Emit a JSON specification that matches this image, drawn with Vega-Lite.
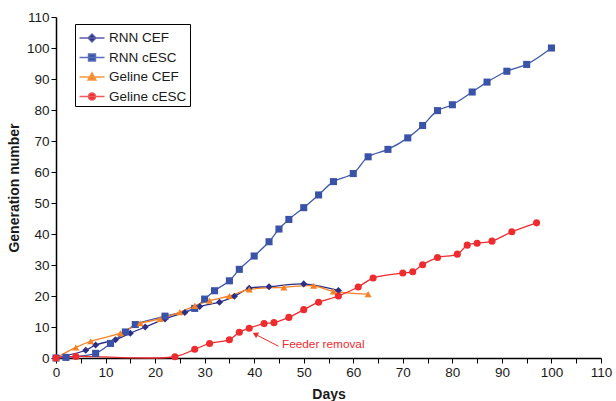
{
  "$schema": "https://vega.github.io/schema/vega-lite/v6.json",
  "width": 545,
  "height": 341,
  "autosize": {"type": "none"},
  "padding": {"left": 56, "top": 17, "right": 15, "bottom": 43},
  "background": "white",
  "config": {
    "font": "Liberation Sans",
    "view": {"stroke": null},
    "axis": {
      "grid": false,
      "domainColor": "#000000",
      "domainWidth": 1.5,
      "tickColor": "#000000",
      "tickWidth": 1,
      "tickSize": 5,
      "labelOverlap": false,
      "labelFlush": false,
      "labelFont": "Liberation Sans",
      "labelFontSize": 13.5,
      "labelColor": "#1a1a1a",
      "labelPadding": 2,
      "titleFont": "Liberation Sans",
      "titleFontSize": 14,
      "titleFontWeight": "bold",
      "titleColor": "#1a1a1a"
    }
  },
  "datasets": {
    "main": [
      {"series": "RNN CEF", "day": 0, "gen": 0},
      {"series": "RNN CEF", "day": 6, "gen": 2.5},
      {"series": "RNN CEF", "day": 8, "gen": 4.2},
      {"series": "RNN CEF", "day": 12, "gen": 5.9},
      {"series": "RNN CEF", "day": 15, "gen": 8},
      {"series": "RNN CEF", "day": 18, "gen": 10},
      {"series": "RNN CEF", "day": 22, "gen": 12.6},
      {"series": "RNN CEF", "day": 26, "gen": 14.7},
      {"series": "RNN CEF", "day": 29, "gen": 16.6},
      {"series": "RNN CEF", "day": 33, "gen": 18},
      {"series": "RNN CEF", "day": 36, "gen": 19.9},
      {"series": "RNN CEF", "day": 39, "gen": 22.5},
      {"series": "RNN CEF", "day": 43, "gen": 23},
      {"series": "RNN CEF", "day": 50, "gen": 23.9},
      {"series": "RNN CEF", "day": 57, "gen": 21.8},
      {"series": "RNN cESC", "day": 0, "gen": 0},
      {"series": "RNN cESC", "day": 2, "gen": 0.2},
      {"series": "RNN cESC", "day": 8, "gen": 1.5},
      {"series": "RNN cESC", "day": 11, "gen": 4.7},
      {"series": "RNN cESC", "day": 14, "gen": 8.4},
      {"series": "RNN cESC", "day": 16, "gen": 10.8},
      {"series": "RNN cESC", "day": 22, "gen": 13.5},
      {"series": "RNN cESC", "day": 28, "gen": 16},
      {"series": "RNN cESC", "day": 30, "gen": 19},
      {"series": "RNN cESC", "day": 32, "gen": 21.7},
      {"series": "RNN cESC", "day": 35, "gen": 24.9},
      {"series": "RNN cESC", "day": 37, "gen": 28.6},
      {"series": "RNN cESC", "day": 40, "gen": 32.9},
      {"series": "RNN cESC", "day": 43, "gen": 37.5},
      {"series": "RNN cESC", "day": 45, "gen": 41.6},
      {"series": "RNN cESC", "day": 47, "gen": 44.7},
      {"series": "RNN cESC", "day": 50, "gen": 48.5},
      {"series": "RNN cESC", "day": 53, "gen": 52.6},
      {"series": "RNN cESC", "day": 56, "gen": 56.9},
      {"series": "RNN cESC", "day": 60, "gen": 59.5},
      {"series": "RNN cESC", "day": 63, "gen": 64.9},
      {"series": "RNN cESC", "day": 67, "gen": 67.3},
      {"series": "RNN cESC", "day": 71, "gen": 71},
      {"series": "RNN cESC", "day": 74, "gen": 75},
      {"series": "RNN cESC", "day": 77, "gen": 79.8},
      {"series": "RNN cESC", "day": 80, "gen": 81.7},
      {"series": "RNN cESC", "day": 84, "gen": 85.8},
      {"series": "RNN cESC", "day": 87, "gen": 89},
      {"series": "RNN cESC", "day": 91, "gen": 92.5},
      {"series": "RNN cESC", "day": 95, "gen": 94.7},
      {"series": "RNN cESC", "day": 100, "gen": 100},
      {"series": "Geline CEF", "day": 0, "gen": 0},
      {"series": "Geline CEF", "day": 4, "gen": 3.4},
      {"series": "Geline CEF", "day": 7, "gen": 5.4},
      {"series": "Geline CEF", "day": 13, "gen": 8},
      {"series": "Geline CEF", "day": 17, "gen": 11.2},
      {"series": "Geline CEF", "day": 21, "gen": 12.6},
      {"series": "Geline CEF", "day": 25, "gen": 14.8},
      {"series": "Geline CEF", "day": 28, "gen": 16.8},
      {"series": "Geline CEF", "day": 31, "gen": 18.5},
      {"series": "Geline CEF", "day": 35, "gen": 20},
      {"series": "Geline CEF", "day": 39, "gen": 22.1},
      {"series": "Geline CEF", "day": 46, "gen": 22.8},
      {"series": "Geline CEF", "day": 52, "gen": 23.3},
      {"series": "Geline CEF", "day": 56, "gen": 21.5},
      {"series": "Geline CEF", "day": 63, "gen": 20.6},
      {"series": "Geline cESC", "day": 0, "gen": 0},
      {"series": "Geline cESC", "day": 4, "gen": 0.5},
      {"series": "Geline cESC", "day": 24, "gen": 0.4},
      {"series": "Geline cESC", "day": 28, "gen": 2.8},
      {"series": "Geline cESC", "day": 31, "gen": 4.7},
      {"series": "Geline cESC", "day": 35, "gen": 5.9},
      {"series": "Geline cESC", "day": 37, "gen": 8.3},
      {"series": "Geline cESC", "day": 39, "gen": 9.6},
      {"series": "Geline cESC", "day": 42, "gen": 11.1},
      {"series": "Geline cESC", "day": 44, "gen": 11.4},
      {"series": "Geline cESC", "day": 47, "gen": 13.1},
      {"series": "Geline cESC", "day": 50, "gen": 15.6},
      {"series": "Geline cESC", "day": 53, "gen": 18},
      {"series": "Geline cESC", "day": 57, "gen": 20},
      {"series": "Geline cESC", "day": 61, "gen": 22.9},
      {"series": "Geline cESC", "day": 64, "gen": 25.8},
      {"series": "Geline cESC", "day": 70, "gen": 27.4},
      {"series": "Geline cESC", "day": 72, "gen": 27.8},
      {"series": "Geline cESC", "day": 74, "gen": 30.1},
      {"series": "Geline cESC", "day": 77, "gen": 32.4},
      {"series": "Geline cESC", "day": 81, "gen": 33.5},
      {"series": "Geline cESC", "day": 83, "gen": 36.4},
      {"series": "Geline cESC", "day": 85, "gen": 37},
      {"series": "Geline cESC", "day": 88, "gen": 37.7},
      {"series": "Geline cESC", "day": 92, "gen": 40.7},
      {"series": "Geline cESC", "day": 97, "gen": 43.6}
    ],
    "arrow": [
      {"x1": 44.9, "y1": 3.8, "x2": 40.6, "y2": 7.35, "hx": 40.2, "hy": 7.7, "label": "Feeder removal", "tx": 45.6, "ty": 4.5}
    ]
  },
  "layer": [
    {
      "data": {"name": "main"},
      "mark": {"type": "line", "interpolate": "catmull-rom", "strokeWidth": 1.3},
      "encoding": {
        "x": {"field": "day", "type": "quantitative", "scale": {"domain": [0, 110], "nice": false},
          "axis": {"title": "Days", "values": [0,5,10,15,20,25,30,35,40,45,50,55,60,65,70,75,80,85,90,95,100,105,110],
            "labelExpr": "datum.value % 10 === 0 ? datum.label : ''", "titlePadding": 9}},
        "y": {"field": "gen", "type": "quantitative", "scale": {"domain": [0, 110], "nice": false},
          "axis": {"title": "Generation number", "values": [0,10,20,30,40,50,60,70,80,90,100,110], "titlePadding": 5}},
        "color": {"field": "series", "type": "nominal",
          "scale": {"domain": ["RNN CEF", "RNN cESC", "Geline CEF", "Geline cESC"], "range": ["#2b2f86", "#3f5aab", "#f58025", "#ee2b2f"]},
          "legend": null}
      }
    },
    {
      "data": {"name": "main"},
      "mark": {"type": "point", "filled": true, "size": 50, "opacity": 1},
      "encoding": {
        "x": {"field": "day", "type": "quantitative",
          "axis": {"title": "Days", "values": [0,5,10,15,20,25,30,35,40,45,50,55,60,65,70,75,80,85,90,95,100,105,110],
            "labelExpr": "datum.value % 10 === 0 ? datum.label : ''", "titlePadding": 9}},
        "y": {"field": "gen", "type": "quantitative",
          "axis": {"title": "Generation number", "values": [0,10,20,30,40,50,60,70,80,90,100,110], "titlePadding": 5}},
        "color": {"field": "series", "type": "nominal",
          "scale": {"domain": ["RNN CEF", "RNN cESC", "Geline CEF", "Geline cESC"], "range": ["#2b2f86", "#3a52a8", "#f58025", "#ee2b2f"]},
          "legend": null},
        "shape": {"field": "series", "type": "nominal",
          "scale": {"domain": ["RNN CEF", "RNN cESC", "Geline CEF", "Geline cESC"], "range": ["diamond", "square", "triangle-up", "circle"]},
          "legend": null}
      }
    },
    {
      "data": {"name": "main"},
      "mark": {"type": "point", "filled": true, "size": 40, "opacity": 0},
      "encoding": {
        "x": {"field": "day", "type": "quantitative",
          "axis": {"title": "Days", "values": [0,5,10,15,20,25,30,35,40,45,50,55,60,65,70,75,80,85,90,95,100,105,110],
            "labelExpr": "datum.value % 10 === 0 ? datum.label : ''", "titlePadding": 9}},
        "y": {"field": "gen", "type": "quantitative",
          "axis": {"title": "Generation number", "values": [0,10,20,30,40,50,60,70,80,90,100,110], "titlePadding": 5}},
        "color": {"field": "series", "type": "nominal",
          "scale": {"domain": ["RNN CEF", "RNN cESC", "Geline CEF", "Geline cESC"], "range": ["#2b2f86", "#3a52a8", "#f58025", "#ee2b2f"]},
          "legend": {
            "title": null, "orient": "none", "legendX": 19, "legendY": 7,
            "strokeColor": "#000000", "fillColor": "#ffffff", "padding": 3,
            "symbolSize": 400, "symbolStrokeWidth": 1.4, "symbolOpacity": 1, "symbolOffset": 3,
            "labelFontSize": 13.5, "labelFont": "Liberation Sans", "labelColor": "#1a1a1a", "labelOffset": 6, "rowPadding": 1.5,
            "encode": {"symbols": {"update": {
              "opacity": {"value": 1},
              "fill": {"signal": "datum.value === 'RNN CEF' ? '#2b2f86' : datum.value === 'RNN cESC' ? '#3a52a8' : datum.value === 'Geline CEF' ? '#f58025' : '#ee2b2f'"},
              "stroke": {"signal": "datum.value === 'RNN CEF' ? '#5a5ea8' : datum.value === 'RNN cESC' ? '#5a70b8' : datum.value === 'Geline CEF' ? '#f7953f' : '#f05a5e'"}
            }}}
          }},
        "shape": {"field": "series", "type": "nominal",
          "scale": {"domain": ["RNN CEF", "RNN cESC", "Geline CEF", "Geline cESC"],
            "range": [
              "M-1.25,0H1.25M0,-0.4L0.4,0L0,0.4L-0.4,0Z",
              "M-1.25,0H1.25M-0.35,-0.35H0.35V0.35H-0.35Z",
              "M-1.25,0H1.25M0,-0.42L0.4,0.3H-0.4Z",
              "M-1.25,0H1.25M-0.36,0A0.36,0.36,0,1,1,0.36,0A0.36,0.36,0,1,1,-0.36,0Z"
            ]},
          "legend": {"title": null, "orient": "none", "legendX": 19, "legendY": 7}}
      }
    },
    {
      "data": {"name": "arrow"},
      "mark": {"type": "rule", "color": "#ee2b2f", "strokeWidth": 1},
      "encoding": {
        "x": {"field": "x1", "type": "quantitative",
          "axis": {"title": "Days", "values": [0,5,10,15,20,25,30,35,40,45,50,55,60,65,70,75,80,85,90,95,100,105,110],
            "labelExpr": "datum.value % 10 === 0 ? datum.label : ''", "titlePadding": 9}},
        "y": {"field": "y1", "type": "quantitative",
          "axis": {"title": "Generation number", "values": [0,10,20,30,40,50,60,70,80,90,100,110], "titlePadding": 5}},
        "x2": {"field": "x2"},
        "y2": {"field": "y2"}
      }
    },
    {
      "data": {"name": "arrow"},
      "mark": {"type": "point", "shape": "triangle-up", "filled": true, "color": "#ee2b2f", "size": 40, "angle": 298, "opacity": 1},
      "encoding": {
        "x": {"field": "hx", "type": "quantitative",
          "axis": {"title": "Days", "values": [0,5,10,15,20,25,30,35,40,45,50,55,60,65,70,75,80,85,90,95,100,105,110],
            "labelExpr": "datum.value % 10 === 0 ? datum.label : ''", "titlePadding": 9}},
        "y": {"field": "hy", "type": "quantitative",
          "axis": {"title": "Generation number", "values": [0,10,20,30,40,50,60,70,80,90,100,110], "titlePadding": 5}}
      }
    },
    {
      "data": {"name": "arrow"},
      "mark": {"type": "text", "color": "#ee2b2f", "fontSize": 11.8, "align": "left", "baseline": "middle", "font": "Liberation Sans"},
      "encoding": {
        "x": {"field": "tx", "type": "quantitative",
          "axis": {"title": "Days", "values": [0,5,10,15,20,25,30,35,40,45,50,55,60,65,70,75,80,85,90,95,100,105,110],
            "labelExpr": "datum.value % 10 === 0 ? datum.label : ''", "titlePadding": 9}},
        "y": {"field": "ty", "type": "quantitative",
          "axis": {"title": "Generation number", "values": [0,10,20,30,40,50,60,70,80,90,100,110], "titlePadding": 5}},
        "text": {"field": "label"}
      }
    }
  ],
  "resolve": {"scale": {"color": "independent", "shape": "independent"}}
}
